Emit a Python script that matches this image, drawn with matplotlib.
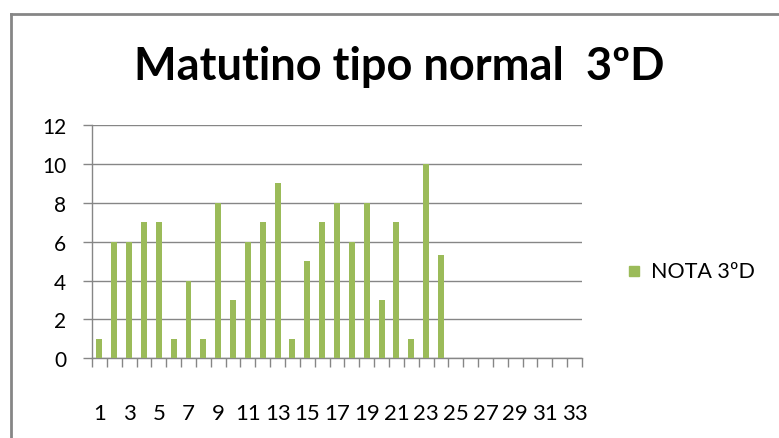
import matplotlib
matplotlib.use("Agg")
import matplotlib.pyplot as plt
from matplotlib.lines import Line2D
import numpy as np

categories = list(range(1, 34))
values = [1, 6, 6, 7, 7, 1, 4, 1, 8, 3, 6, 7, 9, 1, 5, 7, 8, 6, 8, 3, 7, 1, 10, 5.3]
tick_labels = [str(c) for c in categories if c % 2 == 1]
y_ticks = [0, 2, 4, 6, 8, 10, 12]
title = "Matutino tipo normal  3ºD"
series_name = "NOTA 3ºD"

green = "#9BBB59"
gray = "#868686"
plt.rcParams['font.family'] = ['Lato', 'DejaVu Sans']

W, H = 779, 439
fig = plt.figure(figsize=(W / 100, H / 100), dpi=100)
ax = fig.add_axes([92 / W, 1 - 359.3 / H, (582 - 92) / W, (359.3 - 126) / H])

x = np.arange(1, len(values) + 1)
ax.bar(x, values, width=0.4, color=green, zorder=3)

ax.set_xlim(0.5, len(categories) + 0.5)
ax.set_ylim(0, 12)
ax.set_yticks(y_ticks)
ax.set_yticklabels([str(v) for v in y_ticks])
ax.yaxis.grid(True, color=gray, linewidth=1.0, zorder=0)
ax.set_xticks([c for c in categories if c % 2 == 1])
ax.set_xticklabels(tick_labels)
ax.set_xticks(np.arange(0.5, len(categories) + 1, 1.0), minor=True)
ax.tick_params(axis='x', which='major', length=0, pad=32, labelsize=16, colors='#000000')
ax.tick_params(axis='x', which='minor', length=6.5, width=1, color=gray)
ax.tick_params(axis='y', length=6.5, width=1, color=gray, pad=12, labelsize=15)
for s in ['top', 'right']:
    ax.spines[s].set_visible(False)
for s in ['left', 'bottom']:
    ax.spines[s].set_color(gray)
    ax.spines[s].set_linewidth(1.0)

fig.text(399 / W, 1 - 67 / H, title, ha='center', va='center',
         fontsize=32.5, fontweight='bold')

# legend
fig.patches.append(plt.Rectangle((629 / W, 1 - 277 / H), 10 / W, 10 / H,
                                 transform=fig.transFigure, color=green))
fig.text(651 / W, 1 - 272 / H, series_name, ha='left', va='center', fontsize=15.5)

# chart border
fig.add_artist(Line2D([11 / W, 1.0], [1 - 15 / H, 1 - 15 / H], color=gray, lw=2,
                      transform=fig.transFigure))
fig.add_artist(Line2D([11 / W, 11 / W], [0, 1 - 15 / H], color=gray, lw=2,
                      transform=fig.transFigure))

fig.savefig("out.png", dpi=100)
